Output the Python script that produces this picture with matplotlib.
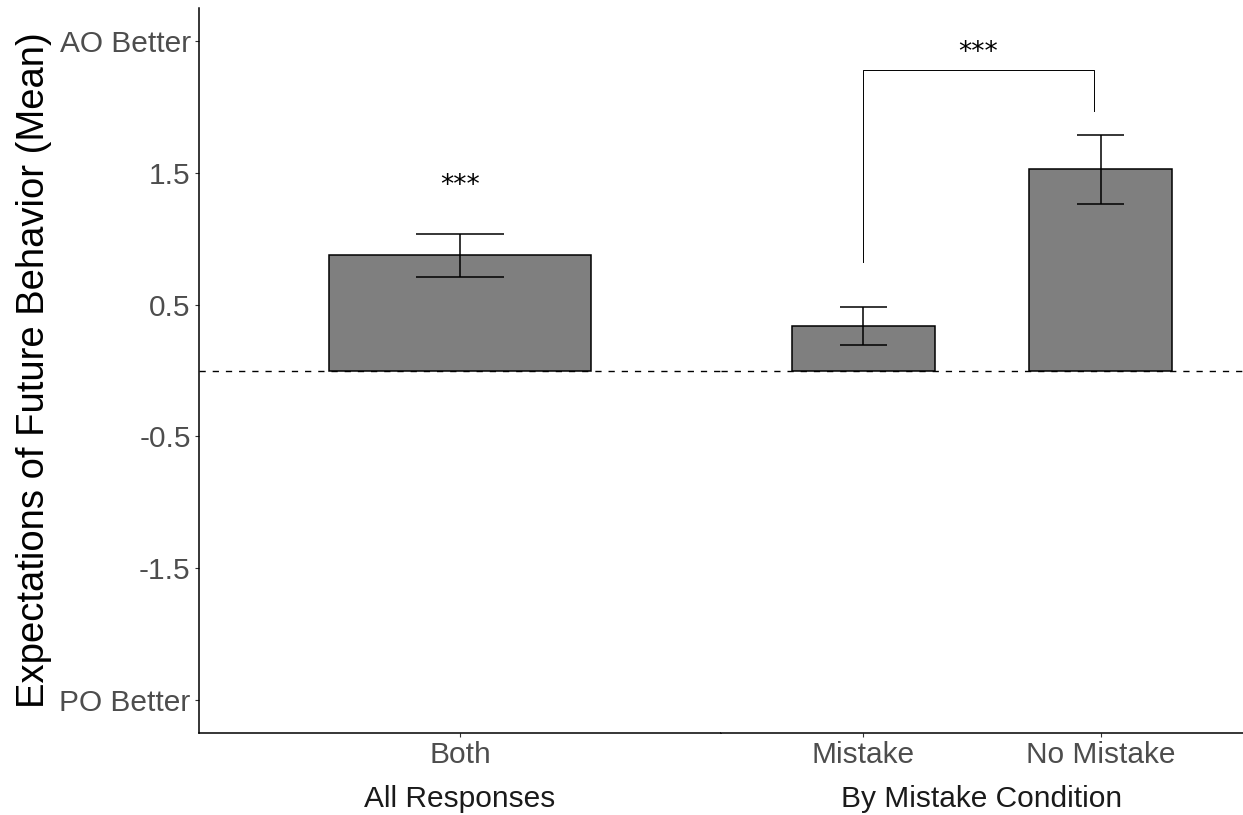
"""Bar chart of expectations of future behavior, split into two facets."""

import matplotlib

matplotlib.use("Agg")
import matplotlib.pyplot as plt

plt.rcParams["font.family"] = ["Liberation Sans", "DejaVu Sans"]

# facet 1: all responses
all_labels = ["Both"]
all_means = [0.875]
all_se = [0.163]

# facet 2: by mistake condition
cond_labels = ["Mistake", "No Mistake"]
cond_means = [0.34, 1.527]
cond_se = [0.144, 0.262]

facet_titles = ["All Responses", "By Mistake Condition"]
y_ticks = [2.5, 1.5, 0.5, -0.5, -1.5, -2.5]
y_tick_labels = ["AO Better", "1.5", "0.5", "-0.5", "-1.5", "PO Better"]

TICK_GREY = "#4D4D4D"
BAR_GREY = "#7F7F7F"

W, H = 1243, 815
fig = plt.figure(figsize=(W / 100, H / 100), dpi=100)

left, right, bottom, top = 199, 1243, 733, 8
mid = (left + right) / 2
ax1 = fig.add_axes([left / W, (H - bottom) / H, (mid - left) / W, (bottom - top) / H])
ax2 = fig.add_axes([mid / W, (H - bottom) / H, (right - mid) / W, (bottom - top) / H])


def draw_facet(ax, labels, means, se, title):
    x = list(range(1, len(labels) + 1))
    ax.axhline(0, color="black", linewidth=1.0, dashes=(4.5, 5), zorder=1)
    ax.bar(x, means, width=0.6, color=BAR_GREY, edgecolor="black", linewidth=1.1, zorder=2)
    ax.errorbar(x, means, yerr=se, fmt="none", ecolor="black", elinewidth=1.1,
                capsize=0, zorder=3)
    for xi, m, s in zip(x, means, se):
        ax.hlines([m - s, m + s], xi - 0.1, xi + 0.1, color="black", linewidth=1.1, zorder=3)
    ax.set_xlim(0.4, len(labels) + 0.6)
    ax.set_ylim(-2.75, 2.75)
    ax.set_xticks(x)
    ax.set_xticklabels(labels)
    ax.tick_params(axis="x", length=3, width=0.8, color="#333333", labelsize=21.5,
                   labelcolor=TICK_GREY, pad=3)
    for side in ["top", "right"]:
        ax.spines[side].set_visible(False)
    ax.spines["bottom"].set_linewidth(1.1)
    ax.spines["bottom"].set_capstyle("projecting")
    ax.text(0.5, -0.091, title, transform=ax.transAxes, ha="center", va="center",
            fontsize=21.5, color="#1A1A1A")


draw_facet(ax1, all_labels, all_means, all_se, facet_titles[0])
draw_facet(ax2, cond_labels, cond_means, cond_se, facet_titles[1])

ax1.spines["left"].set_linewidth(1.1)
ax1.set_yticks(y_ticks)
ax1.set_yticklabels(y_tick_labels)
ax1.tick_params(axis="y", length=3, width=0.8, color="#333333", labelsize=21.5,
                labelcolor=TICK_GREY, pad=3)
ax1.set_ylabel("Expectations of Future Behavior (Mean)", fontsize=27.5, color="black",
               labelpad=5)

ax2.spines["left"].set_visible(False)
ax2.set_yticks([])

# significance markers
star_font = {"family": "DejaVu Sans", "fontsize": 19}
ax1.text(1, 1.40, "***", ha="center", va="center", **star_font)
ax2.plot([1.0, 1.0, 1.97, 1.97], [0.82, 2.28, 2.28, 1.97], color="black", linewidth=0.7)
ax2.text(1.485, 2.41, "***", ha="center", va="center", **star_font)

fig.savefig("out.png", dpi=100, facecolor="white")
